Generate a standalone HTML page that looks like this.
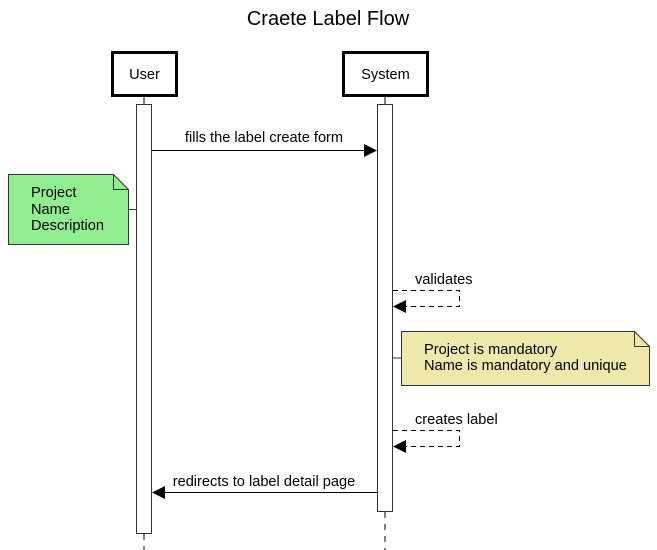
<!DOCTYPE html>
<html><head><style>body{margin:0;background:#fff}svg{display:block}text{font-family:"Liberation Sans",Arial,sans-serif;font-size:14.6px;fill:#000}</style></head>
<body>
<svg width="657" height="550" xmlns="http://www.w3.org/2000/svg">
<text x="328" y="25" text-anchor="middle" style="font-size:20px">Craete Label Flow</text>
<line x1="144" y1="96" x2="144" y2="104" stroke="#000"/>
<line x1="144" y1="534" x2="144" y2="550" stroke="#000" stroke-dasharray="6,6"/>
<line x1="385" y1="96" x2="385" y2="104" stroke="#000"/>
<line x1="385" y1="512" x2="385" y2="550" stroke="#000" stroke-dasharray="6,6"/>
<rect x="112.5" y="52.5" width="64" height="43" fill="#fff" stroke="#000" stroke-width="3"/>
<text x="144.5" y="79" text-anchor="middle">User</text>
<rect x="343.5" y="52.5" width="84" height="43" fill="#fff" stroke="#000" stroke-width="3"/>
<text x="385.5" y="79" text-anchor="middle">System</text>
<rect x="136.5" y="104.5" width="15" height="429" fill="#fff" stroke="#333"/>
<rect x="377.5" y="104.5" width="15" height="407" fill="#fff" stroke="#333"/>
<line x1="152" y1="150.5" x2="365" y2="150.5" stroke="#000"/>
<polygon points="377,150.5 364,144 364,157" fill="#000"/>
<text x="264" y="142" text-anchor="middle">fills the label create form</text>
<line x1="128" y1="209.5" x2="136" y2="209.5" stroke="#333"/>
<path d="M8.5,174.5 H113.5 L128.5,189.5 V244.5 H8.5 Z" fill="#90ee90" stroke="#333"/>
<path d="M113.5,174.5 V189.5 H128.5" fill="none" stroke="#333"/>
<text x="31" y="197">Project</text>
<text x="31" y="214">Name</text>
<text x="31" y="230">Description</text>
<text x="415" y="284">validates</text>
<path d="M393,290.5 H459.5 V306.5 H405" fill="none" stroke="#000" stroke-dasharray="5,4"/>
<polygon points="393,306.5 406,300 406,313" fill="#000"/>
<line x1="393" y1="358" x2="401" y2="358" stroke="#333"/>
<path d="M401.5,331.5 H634.5 L649.5,346.5 V385.5 H401.5 Z" fill="#eee8aa" stroke="#333"/>
<path d="M634.5,331.5 V346.5 H649.5" fill="none" stroke="#333"/>
<text x="424" y="354">Project is mandatory</text>
<text x="424" y="370">Name is mandatory and unique</text>
<text x="415" y="424">creates label</text>
<path d="M393,430.5 H459.5 V446.5 H405" fill="none" stroke="#000" stroke-dasharray="5,4"/>
<polygon points="393,446.5 406,440 406,453" fill="#000"/>
<line x1="377" y1="492.5" x2="164" y2="492.5" stroke="#000"/>
<polygon points="152,492.5 165,486 165,499" fill="#000"/>
<text x="264" y="486" text-anchor="middle">redirects to label detail page</text>
</svg>
</body></html>
